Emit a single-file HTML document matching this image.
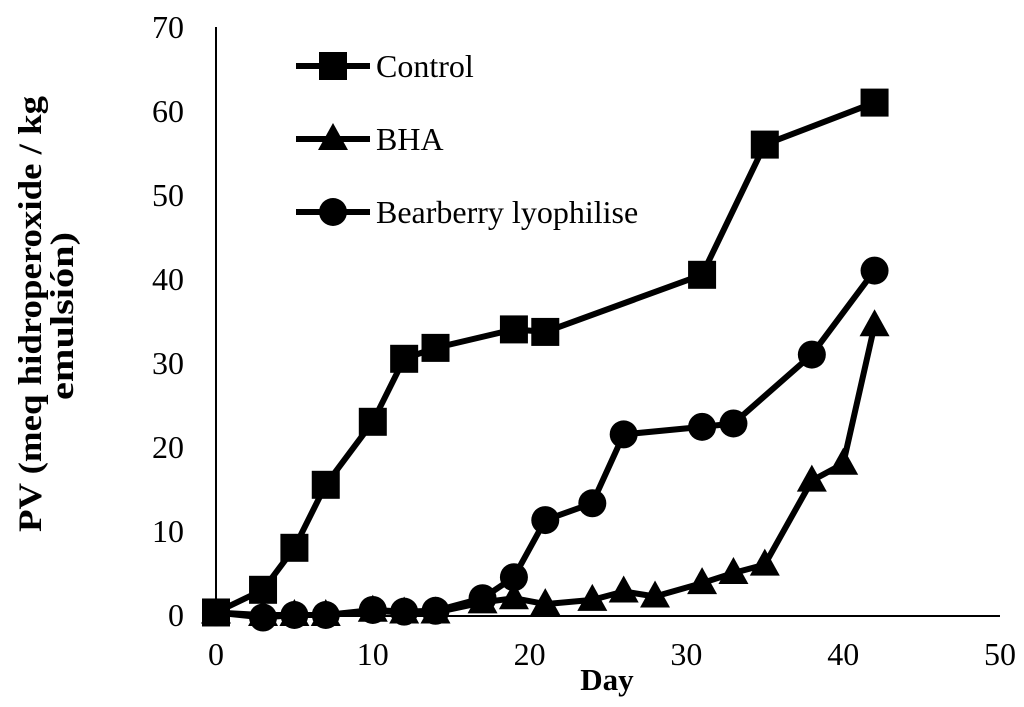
<!DOCTYPE html>
<html><head><meta charset="utf-8"><style>
body{margin:0;background:#fff}
text{font-family:"Liberation Serif",serif;fill:#000}
</style></head><body>
<svg id="chart" width="1024" height="702" viewBox="0 0 1024 702" xmlns="http://www.w3.org/2000/svg">
<g id="axes"></g>
<g id="series"></g>
<g id="legend"></g>
<text x="607" y="690" font-size="31" font-weight="bold" text-anchor="middle">Day</text>
<text transform="translate(41,314) rotate(-90)" font-size="33" font-weight="bold" text-anchor="middle" textLength="436" lengthAdjust="spacingAndGlyphs">PV (meq hidroperoxide / kg</text>
<text transform="translate(73,316) rotate(-90)" font-size="33" font-weight="bold" text-anchor="middle" textLength="168" lengthAdjust="spacingAndGlyphs">emulsión)</text>
</svg>
<script>
const xTicks=[0,10,20,30,40,50];
const yTicks=[0,10,20,30,40,50,60,70];
const controlDays=[0,3,5,7,10,12,14,19,21,31,35,42];
const controlPV=[0.3,3,8,15.5,23,30.5,31.8,34,33.7,40.5,56,61];
const bhaDays=[0,3,5,7,10,12,14,17,19,21,24,26,28,31,33,35,38,40,42];
const bhaPV=[0.3,0,0,0,0.5,0.3,0.3,1.5,2,1.3,1.8,2.8,2.2,3.8,5,6,16,18,34.5];
const bearDays=[0,3,5,7,10,12,14,17,19,21,24,26,31,33,38,42];
const bearPV=[0.3,-0.3,0,0,0.6,0.4,0.5,2,4.5,11.3,13.3,21.5,22.4,22.8,31,41];
const NS='http://www.w3.org/2000/svg';
const X=d=>216+d*(1000-216)/50;
const Y=v=>615-v*(615-27)/70;
function mk(t,a,p){const e=document.createElementNS(NS,t);for(const k in a)e.setAttribute(k,a[k]);p.appendChild(e);return e;}
const axes=document.getElementById('axes');
let l=mk('line',{x1:X(0),y1:Y(0)+1,x2:X(50),y2:Y(0)+1,stroke:'#000','stroke-width':2},axes);


l=mk('line',{x1:X(0),y1:Y(0)+1,x2:X(0),y2:Y(70),stroke:'#000','stroke-width':2},axes);


xTicks.forEach(t=>{const e=mk('text',{x:X(t),y:665,'font-size':32,'text-anchor':'middle'},axes);e.textContent=t;

});
yTicks.forEach(t=>{const e=mk('text',{x:184,y:Y(t)+11,'font-size':32,'text-anchor':'end'},axes);e.textContent=t;

});
function marker(type,x,y,g){let e;
if(type==='sq')e=mk('rect',{x:x-14,y:y-14,width:28,height:28,fill:'#000'},g);
else if(type==='tri')e=mk('polygon',{points:`${x},${y-16} ${x+15},${y+11} ${x-15},${y+11}`,fill:'#000'},g);
else e=mk('circle',{cx:x,cy:y,r:14,fill:'#000'},g);

}
function series(name,days,vals,type){const g=mk('g',{},document.getElementById('series'));


const p=mk('polyline',{points:days.map((d,i)=>X(d)+','+Y(vals[i])).join(' '),fill:'none',stroke:'#000','stroke-width':6,'stroke-linejoin':'round'},g);


days.forEach((d,i)=>marker(type,X(d),Y(vals[i]),g));}
series('bha',bhaDays,bhaPV,'tri');
series('bearberry',bearDays,bearPV,'circ');
series('control',controlDays,controlPV,'sq');
const lg=document.getElementById('legend');
[['Control','sq',66],['BHA','tri',139],['Bearberry lyophilise','circ',212]].forEach(([n,t,y])=>{
const g=mk('g',{},lg);


mk('line',{x1:296,y1:y,x2:370,y2:y,stroke:'#000','stroke-width':6},g);
marker(t,333,y,g);
const e=mk('text',{x:376,y:y+11,'font-size':32},g);e.textContent=n;});
</script>
</body></html>
